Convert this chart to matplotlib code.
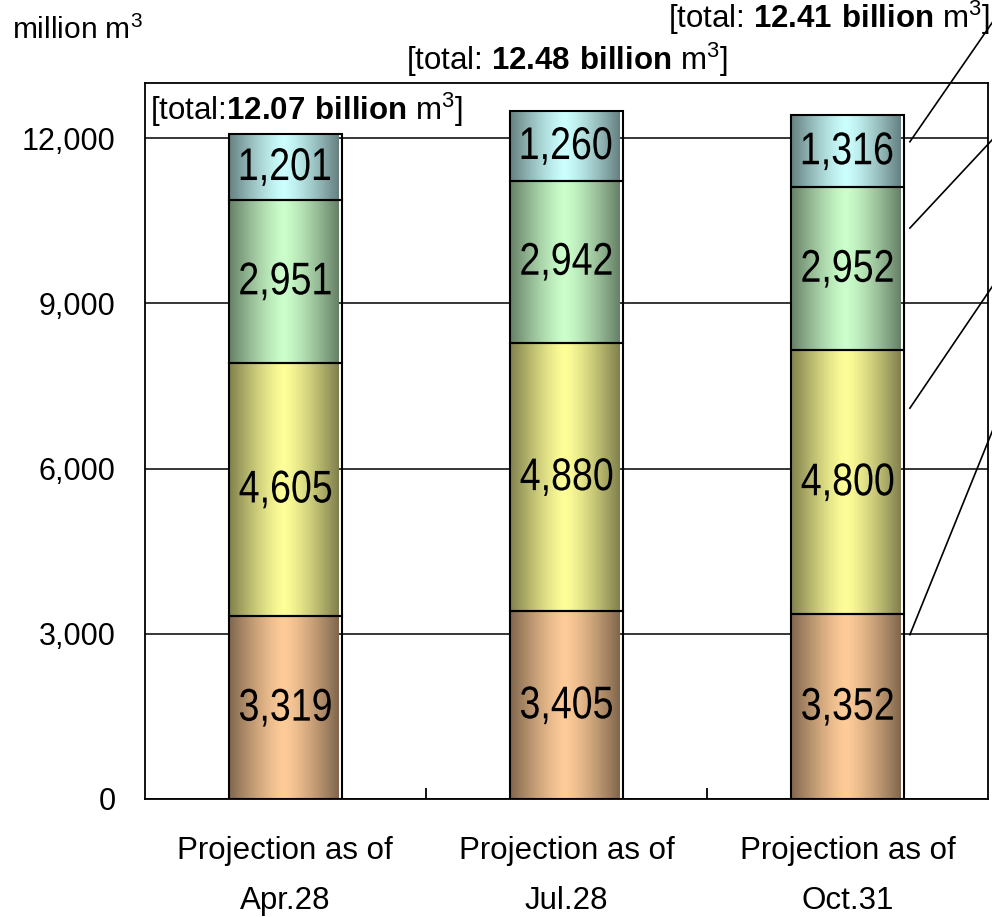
import matplotlib
matplotlib.use("Agg")
import matplotlib.pyplot as plt
import numpy as np
from matplotlib.textpath import TextPath
from matplotlib.patches import PathPatch
from matplotlib.font_manager import FontProperties
from matplotlib.transforms import Affine2D, ScaledTranslation

# data (million m3)
categories = ["Projection as of\nApr.28", "Projection as of\nJul.28", "Projection as of\nOct.31"]
seg1 = [3319, 3405, 3352]
seg2 = [4605, 4880, 4800]
seg3 = [2951, 2942, 2952]
seg4 = [1201, 1260, 1316]
totals = ["12.07", "12.48", "12.41"]

# light (centre) colour of each stacked segment
light_colors = ["#FFCC99", "#FFFF99", "#CCFFCC", "#CCFFFF"]

plt.rcParams['font.family'] = ['Liberation Sans', 'DejaVu Sans']
plt.rcParams['mathtext.fontset'] = 'custom'
plt.rcParams['mathtext.rm'] = 'Liberation Sans'
plt.rcParams['mathtext.bf'] = 'Liberation Sans:bold'

fig = plt.figure(figsize=(9.92, 9.17), dpi=100)
ax = fig.add_axes([0.146, 0.1287, 0.85, 0.7808])

x = np.arange(len(categories))
width = 0.4
segments = [seg1, seg2, seg3, seg4]
label_prop = FontProperties(family='Liberation Sans')


def narrow_label(xc, yc, s, size=33, squeeze=0.82):
    # condensed number label, centred on (xc, yc) in data coords
    tp = TextPath((0, 0), s, size=size, prop=label_prop)
    ext = tp.get_extents()
    cx = (ext.x0 + ext.x1) / 2
    cy = (ext.y0 + ext.y1) / 2
    k = fig.dpi / 72
    trans = (Affine2D().translate(-cx, -cy).scale(squeeze * k, k)
             + ScaledTranslation(xc, yc, ax.transData))
    ax.add_patch(PathPatch(tp, transform=trans, facecolor='black',
                           edgecolor='none', zorder=4))


# horizontal "cylinder" shading
u = np.linspace(0, 1, 200)
shade = 1 - 0.5 * np.abs(2 * u - 1) ** 1.3

bottoms = np.zeros(len(categories))
for vals, col in zip(segments, light_colors):
    rgb = np.array(matplotlib.colors.to_rgb(col))
    img = (shade[:, None] * rgb[None, :])[None, :, :]
    bars = ax.bar(x, vals, width, bottom=bottoms, facecolor='none',
                  edgecolor='black', linewidth=1.5, zorder=3)
    for xi, b, v, patch in zip(x, bottoms, vals, bars):
        im = ax.imshow(img, extent=[xi - width / 2, xi + width / 2 - 0.012, b, b + v],
                       aspect='auto', zorder=2, interpolation='bilinear')
        im.set_clip_path(patch)
        narrow_label(xi, b + v / 2, f"{v:,}")
    bottoms = bottoms + np.array(vals)

ax.set_xlim(-0.5, 2.5)
ax.set_ylim(0, 13000)
ax.set_aspect('auto')

# axes styling
for s in ax.spines.values():
    s.set_linewidth(1.3)
    s.set_color('black')
ax.set_yticks(np.arange(0, 12001, 3000))
ax.set_yticklabels([f"{t:,}" for t in range(0, 12001, 3000)], fontsize=22)
ax.tick_params(axis='y', length=0, pad=21)
ax.yaxis.grid(True, color='black', linewidth=1.1, zorder=0.5)
ax.set_axisbelow(True)

ax.set_xticks([0.5, 1.5])
ax.set_xticklabels([])
ax.tick_params(axis='x', which='major', direction='in', length=8, width=1.3)
ax.set_xticks(x, minor=True)
ax.set_xticklabels(categories, minor=True, fontsize=22.5, linespacing=1.85)
ax.tick_params(axis='x', which='minor', length=0, pad=27)

# total labels
ax.text(-0.482, 12509, r"[total:$\mathbf{%s\ billion}$ m$^3$]" % totals[0], fontsize=22.5,
        ha='left', va='center', zorder=5)
ax.text(1.0, 13417, r"[total: $\mathbf{%s\ billion}$ m$^3$]" % totals[1], fontsize=22.5,
        ha='center', va='center', clip_on=False)
ax.text(2.508, 14180, r"[total: $\mathbf{%s\ billion}$ m$^3$]" % totals[2], fontsize=22.5,
        ha='right', va='center', clip_on=False)

# leader lines to the (cropped) legend on the right
leader_frac = [0.89, 0.78, 0.75, 0.63]
leader_end = [6663, 9296, 11964, 14090]
bottoms = np.zeros(len(categories))
for vals, frac, yend in zip(segments, leader_frac, leader_end):
    ystart = bottoms[2] + frac * vals[2]
    ax.plot([2.222, 2.53], [ystart, ystart + (yend - ystart) * (2.53 - 2.222) / (2.514 - 2.222)],
            color='black', linewidth=1.2, clip_on=False, zorder=5)
    bottoms = bottoms + np.array(vals)

fig.text(0.012, 0.967, r"million m$^3$", fontsize=21.5, ha='left', va='center')

fig.savefig("out.png", dpi=100)
